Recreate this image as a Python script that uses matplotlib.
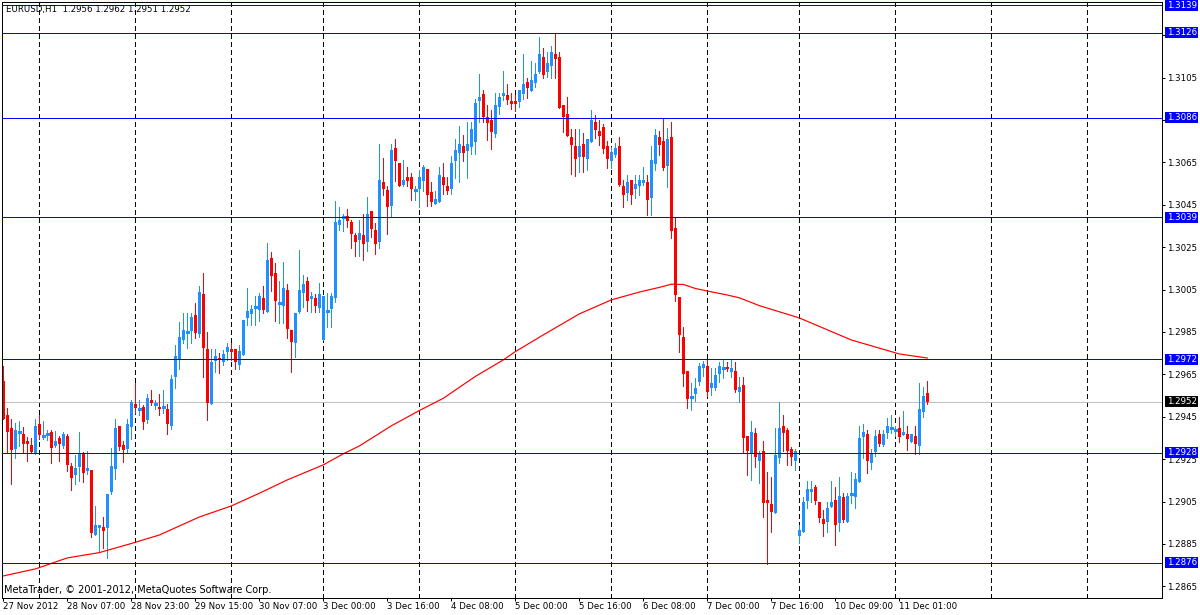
import numpy as np
import matplotlib
matplotlib.use("Agg")
import matplotlib.pyplot as plt
from matplotlib.patches import Rectangle

# ── EURUSD H1 candles, prices in pips (1 pip = 0.0001) ────────────────────────
opens = [
    12962, 12946, 12939.7, 12930, 12937.7, 12936.9, 12933.6, 12931.7, 12927.4, 12941.6,
    12935.8, 12936.7, 12937.8, 12931.2, 12935, 12931.4, 12935.9, 12921.8, 12917.7, 12921.3,
    12927.6, 12919.6, 12919.9, 12889.4, 12892.7, 12892.9, 12892.7, 12909.7, 12920.5, 12940.6,
    12931.7, 12929.6, 12940.3, 12951, 12948.7, 12949.6, 12943.5, 12952.9, 12951, 12949.6,
    12949.6, 12948.7, 12940.4, 12963.5, 12972.1, 12981.2, 12984.8, 12985.6, 12993, 12983.9,
    13002.9, 12977, 12950.9, 12971.5, 12972.9, 12970.7, 12975.7, 12977, 12977, 12969.6,
    12974.1, 12991.8, 12993.5, 12996.6, 12995.4, 13000.9, 12994.6, 13019.7, 13013, 12998.7,
    12997.3, 13004.8, 12985.9, 12979.7, 12994.6, 13003.5, 13009.1, 13000.6, 13000.9, 12996.5,
    12981.2, 12994.9, 12995.7, 13000.9, 13035.5, 13039.4, 13039.7, 13036.9, 13030.8, 13028.4,
    13030.8, 13027.6, 13042.1, 13033.1, 13027.6, 13055.8, 13052, 13044.6, 13071.8, 13064.7,
    13054.4, 13058.1, 13058.1, 13052, 13052.5, 13056.4, 13061.9, 13051.1, 13045.4, 13046.5,
    13058.1, 13053.9, 13052.5, 13065.8, 13069.6, 13072.7, 13070.5, 13072.4, 13074.8, 13093.7,
    13097, 13086.3, 13085, 13078.4, 13091.3, 13096.3, 13096.8, 13094, 13094, 13093.6,
    13097.4, 13102.9, 13098.8, 13102.6, 13107.8, 13114.7, 13107.8, 13110.6, 13116.1, 13114.7,
    13092.1, 13087.7, 13077, 13072.7, 13067.7, 13073.7, 13066.6, 13074.8, 13083.9, 13079.8,
    13081.7, 13072.7, 13065.7, 13068.5, 13072.7, 13053.9, 13050.7, 13056.7, 13052.5, 13053.6,
    13055.1, 13055.6, 13048.4, 13064.4, 13077, 13075.1, 13063.4, 13076.9, 13033.9, 13001.6,
    12982.8, 12966.6, 12954.5, 12955.6, 12961.5, 12967.8, 12968.9, 12958.7, 12958.7, 12965.3,
    12967.8, 12968.6, 12966.3, 12966.6, 12956.5, 12960, 12935.9, 12927.5, 12937.2, 12924.2,
    12929, 12905.8, 12903.9, 12899.5, 12925.7, 12940.7, 12938.8, 12929.8, 12924.3, 12888.5,
    12890.4, 12905.4, 12909.5, 12912, 12904.8, 12896.8, 12895.5, 12902.6, 12905.8, 12894.8,
    12906.9, 12895.5, 12908.4, 12907.3, 12914.3, 12935.6, 12936.7, 12923.3, 12928.5, 12936.7,
    12931.6, 12937.4, 12939.5, 12938.7, 12939.5, 12936.3, 12936.8, 12933.2, 12935.9, 12931.2,
    12947.4, 12956,
]
highs = [
    12969, 12949, 12944, 12941.9, 12943.2, 12940, 12935.6, 12935, 12944, 12945.8,
    12943.2, 12938.8, 12938.8, 12938.4, 12936.1, 12938, 12936.9, 12923.3, 12927.1, 12937.8,
    12928.2, 12928.9, 12919.9, 12902.9, 12894, 12897.9, 12908.6, 12930.4, 12944, 12940.6,
    12933.4, 12943.8, 12952.9, 12961.1, 12952.9, 12950.7, 12955.9, 12957.6, 12952.9, 12955.7,
    12957.6, 12951, 12964.7, 12978.9, 12989.7, 12993.8, 12993.8, 12993.8, 12998.5, 13006.7,
    13012.7, 12984.8, 12977, 12977, 12974.9, 12976.5, 12980, 12979.6, 12977, 12978.9,
    12990.7, 13005.6, 12997.7, 13002, 13003.2, 13006.7, 13026.8, 13022.7, 13017.4, 13009.1,
    13018, 13007.6, 12985.9, 12993.8, 13023.7, 13011.9, 13011.1, 13003.9, 13002.8, 13007.9,
    13002, 13003.2, 13003.2, 13046.8, 13044.1, 13040.7, 13043, 13037.8, 13031.5, 13037.8,
    13040.7, 13048.8, 13042.1, 13036.3, 13073.7, 13067.2, 13053.9, 13073.7, 13076.1, 13064.7,
    13066.1, 13062.8, 13059.9, 13053.9, 13061.4, 13063.9, 13061.9, 13055.8, 13051.5, 13062.8,
    13064.7, 13058.1, 13068, 13076.1, 13081.9, 13077.9, 13084.1, 13084.1, 13095.1, 13106.7,
    13099.2, 13092.1, 13089.7, 13097.9, 13097.6, 13108.1, 13101.8, 13097.6, 13096.8, 13099.1,
    13116.1, 13104.6, 13112.8, 13112, 13124, 13118.8, 13117.2, 13120, 13125.9, 13117.2,
    13092.1, 13095.8, 13080.8, 13080.8, 13080.8, 13079, 13076, 13089.7, 13087.1, 13084.8,
    13083.1, 13075.1, 13072, 13074, 13077, 13056.7, 13059.1, 13056.7, 13059.1, 13059.1,
    13063, 13059.1, 13072.9, 13080.8, 13079.8, 13085.5, 13081, 13083.8, 13038.6, 13001.6,
    12987.5, 12966.6, 12960.8, 12963.1, 12970.2, 12971.4, 12971.7, 12967.8, 12967.8, 12971,
    12971.7, 12971, 12971.7, 12971, 12963.9, 12963.9, 12935.9, 12943.2, 12939.6, 12929,
    12933.7, 12919.1, 12916.8, 12939.9, 12952.1, 12945.8, 12939.6, 12930.9, 12929.8, 12894,
    12907.3, 12914.7, 12914.7, 12912.8, 12904.8, 12901, 12905, 12914.7, 12912, 12916.8,
    12908.9, 12908.9, 12918.9, 12918.3, 12940.6, 12941.5, 12938.7, 12929.6, 12938.7, 12938.7,
    12938.7, 12944.5, 12945.8, 12940.6, 12945, 12947.8, 12940.6, 12936.8, 12940.6, 12960.7,
    12959.1, 12962,
]
lows = [
    12944, 12928.5, 12913.4, 12925.7, 12931.2, 12928.5, 12924.3, 12927.8, 12927.4, 12934.7,
    12934.4, 12933.9, 12923.2, 12930.6, 12924.3, 12930.1, 12919.6, 12910.6, 12913.4, 12914.9,
    12914.4, 12917.8, 12888.4, 12889.4, 12881.1, 12883.3, 12878.5, 12908.6, 12915.5, 12929.3,
    12923.5, 12927.8, 12934.7, 12946.8, 12945.8, 12939.2, 12942.2, 12950.4, 12948.5, 12945.8,
    12946.6, 12937, 12939.1, 12958.7, 12967.4, 12979.7, 12977.3, 12979.7, 12982.3, 12982.8,
    12963.5, 12943.5, 12950.9, 12966.3, 12965.5, 12969.4, 12971.8, 12971.8, 12967.6, 12967.6,
    12974.1, 12988.3, 12988.3, 12988.3, 12990.3, 12993.8, 12994.6, 13004.3, 12990.3, 12989.1,
    12989.1, 12982.3, 12966.3, 12973.4, 12993.8, 12996.6, 12994.9, 12994.6, 12994.6, 12994.6,
    12981.2, 12987.5, 12987.5, 12999, 13033.1, 13032.8, 13034.7, 13024.8, 13020.6, 13020.6,
    13018.7, 13023.4, 13030, 13021.7, 13024.8, 13049.6, 13031.2, 13039.4, 13056.4, 13053.6,
    13053.6, 13053.6, 13047.3, 13047.3, 13044.1, 13051.5, 13044.6, 13044.6, 13045.4, 13046.5,
    13050.1, 13050.1, 13050.1, 13057.5, 13055.5, 13065.8, 13057.8, 13068.8, 13068.8, 13084.2,
    13084.2, 13075.6, 13071.3, 13076.8, 13088, 13094.4, 13092.5, 13090, 13089.4, 13091.3,
    13094.9, 13095.5, 13098.8, 13100.7, 13107, 13104.6, 13105.1, 13104.6, 13104.6, 13090.8,
    13079.5, 13077.5, 13059.5, 13058.6, 13060.6, 13060.6, 13061.4, 13074.8, 13076.4, 13073.2,
    13069.3, 13062.2, 13062.2, 13067.7, 13053.6, 13043.7, 13047.3, 13045.4, 13048.4, 13049.6,
    13054.3, 13040.2, 13040.2, 13061.4, 13068.5, 13061.4, 13053.5, 13029.4, 12999.7, 12975.7,
    12959.7, 12949.3, 12948.2, 12952.4, 12959.9, 12964.4, 12954.8, 12955.3, 12957.6, 12961.5,
    12963.1, 12966.6, 12963.9, 12956.8, 12951.8, 12927.8, 12917.5, 12915.2, 12921.5, 12913.6,
    12897.6, 12875.6, 12890.4, 12899.5, 12923.4, 12928.6, 12922.3, 12922.3, 12919.9, 12885.3,
    12890.4, 12901.8, 12905, 12903.9, 12895.5, 12888.5, 12890.4, 12902.6, 12884.5, 12891.3,
    12895.5, 12895.5, 12904.1, 12901.8, 12914.3, 12925.3, 12918.6, 12920.3, 12926.6, 12931.2,
    12931.2, 12934.8, 12937.1, 12935.9, 12933.2, 12936.3, 12929.3, 12933.2, 12927.4, 12927.4,
    12945, 12951,
]
closes = [
    12944, 12938, 12929.5, 12938.8, 12937.7, 12932.3, 12932.3, 12928.5, 12940.6, 12936.4,
    12935.8, 12936.7, 12930.4, 12933.6, 12932.3, 12936.9, 12922.4, 12916.3, 12921, 12927.3,
    12918.6, 12920.8, 12890.3, 12893.8, 12894, 12891.3, 12908.6, 12921.8, 12939.5, 12930.6,
    12929.3, 12941.6, 12951.8, 12949.3, 12948.7, 12942.7, 12954, 12951.6, 12951, 12948.5,
    12949.6, 12941.4, 12962.8, 12973.7, 12982.5, 12985.9, 12984.8, 12991.9, 12984.7, 13003.9,
    12977.6, 12951.7, 12970.7, 12973.7, 12971.8, 12974.6, 12977.9, 12975.7, 12970.7, 12976,
    12990.7, 12994.9, 12995.8, 12996.6, 13002, 12995.4, 13018.9, 13011.6, 12999.6, 12998.7,
    13005.6, 12986.4, 12980.4, 12993.8, 13004.8, 13007.6, 12999.8, 13002, 12997.3, 13002.8,
    13002, 12994.9, 13002, 13036.9, 13037.8, 13039.4, 13037.4, 13031.2, 13027.6, 13031.5,
    13026.7, 13040.7, 13033.6, 13026.7, 13056.7, 13052.5, 13043.7, 13070.9, 13065.8, 13053.6,
    13056.7, 13056.2, 13052.6, 13052, 13058.1, 13062.8, 13049.6, 13046.5, 13047.6, 13059.1,
    13054.4, 13051.5, 13064.7, 13070.9, 13073.7, 13069.6, 13073.7, 13080.8, 13093.2, 13096,
    13086.6, 13083.7, 13079.5, 13092.1, 13096, 13097.6, 13094.6, 13092.7, 13092.7, 13099.1,
    13101.8, 13099.9, 13103.9, 13106.7, 13116.1, 13106.2, 13111.7, 13116.9, 13113.5, 13090.8,
    13086.6, 13077.5, 13073.2, 13066.6, 13072.9, 13067.7, 13076, 13085, 13080.1, 13077.6,
    13071.5, 13066.6, 13070.1, 13071.6, 13054.3, 13049.6, 13055.9, 13049.6, 13054.8, 13056.7,
    13056.7, 13047.3, 13066.1, 13077.9, 13073.2, 13062.5, 13076, 13032.6, 13002.4, 12983.5,
    12965.3, 12953.4, 12954.5, 12958.4, 12968.9, 12969.9, 12956.5, 12960.8, 12964.7, 12968.9,
    12967.8, 12967.5, 12967.8, 12957.5, 12959.2, 12934.8, 12928.6, 12938, 12925.9, 12927.8,
    12904.5, 12904.5, 12900.1, 12927, 12939.9, 12937.5, 12928.6, 12925.9, 12928.6, 12891.6,
    12904.8, 12910.9, 12910.9, 12905.4, 12897.4, 12894.6, 12901.8, 12904.7, 12893.7, 12907.6,
    12896.3, 12907.6, 12908.4, 12915.6, 12934.8, 12937.8, 12924.2, 12927.7, 12935.9, 12932.1,
    12936.8, 12940.6, 12939.5, 12938.7, 12935.6, 12937.8, 12934.5, 12936.8, 12932.1, 12948.6,
    12954.7, 12952,
]

# moving average, read at a few bars (pips)
ma_bars = [0, 8, 16, 24, 32, 39, 49, 57, 64, 71, 80, 85, 89, 97, 104, 110, 118, 125,
           128, 135, 144, 152, 159, 164, 167, 170, 173, 176, 181, 184, 189, 199, 212,
           224, 231]
ma_pips = [12869.9, 12873.2, 12878.4, 12880.9, 12885.2, 12889.2, 12897.7, 12902.9,
           12908.9, 12915.2, 12922.3, 12927.5, 12931.2, 12940.7, 12947.9, 12953.7,
           12964.0, 12971.8, 12975.7, 12983.6, 12993.5, 13000.1, 13003.8, 13006.0,
           13007.5, 13007.4, 13005.5, 13004.3, 13002.4, 13001.1, 12997.4, 12991.6,
           12981.2, 12974.6, 12972.7]

levels = [1.3139, 1.3126, 1.3086, 1.3039, 1.2972, 1.2928, 1.2876]
bid = 1.2952

price_ticks = [1.2865, 1.2885, 1.2905, 1.2925, 1.2945, 1.2965, 1.2985, 1.3005,
               1.3025, 1.3045, 1.3065, 1.3085, 1.3105, 1.3125]
hidden_ticks = [1.3085, 1.3125]   # covered by the level boxes
time_ticks = [0, 16, 32, 48, 64, 80, 96, 112, 128, 144, 160, 176, 192, 208, 224]
time_labels = ["27 Nov 2012", "28 Nov 07:00", "28 Nov 23:00", "29 Nov 15:00",
               "30 Nov 07:00", "3 Dec 00:00", "3 Dec 16:00", "4 Dec 08:00",
               "5 Dec 00:00", "5 Dec 16:00", "6 Dec 08:00", "7 Dec 00:00",
               "7 Dec 16:00", "10 Dec 09:00", "11 Dec 01:00"]
day_bars = [9, 33, 57, 80, 104, 128, 152, 176, 199, 223, 247, 271]

# ── Plot ───────────────────────────────────────────────────────────────────────
plt.rcParams["font.family"] = ["DejaVu Sans"]
plt.rcParams["font.size"] = 6.2

UP, DOWN = "#1E90FF", "#FF0000"
PX = 0.72  # one pixel in points at dpi 100

o = np.array(opens) / 1e4
h = np.array(highs) / 1e4
l = np.array(lows) / 1e4
c = np.array(closes) / 1e4
idx = np.arange(len(o))
up = c >= o
cols = np.where(up, UP, DOWN)

fig = plt.figure(figsize=(12, 6.15), dpi=100)
ax = fig.add_axes([2 / 1200, 17 / 615, 1160 / 1200, 596 / 615])
ax.set_xlim(-0.33, 289.67)
ax.set_ylim(1.285949, 1.314062)

for b in day_bars:
    ax.axvline(b, color="k", lw=PX, ls=(0, (4.5, 4)), zorder=0.5, antialiased=False)
ax.axhline(bid, color="#C0C0C0", lw=PX, zorder=0.8, antialiased=False)

ax.vlines(idx, l, h, colors=cols, lw=PX, zorder=2, antialiased=False)
body = c - o
ax.bar(idx, body, bottom=o, width=0.75, color=cols, lw=0, zorder=2.1,
       antialiased=False)
flat = np.abs(body) < 0.00004
ax.hlines(o[flat], idx[flat] - 0.4, idx[flat] + 0.4, colors=cols[flat],
          lw=PX * 1.2, zorder=2.2, antialiased=False)

ax.plot(ma_bars, np.array(ma_pips) / 1e4, color="#FF0000", lw=PX * 1.2, zorder=3)

for lv in levels:
    ax.axhline(lv, color="#0000FF", lw=PX, zorder=3.5, antialiased=False)

# axes / ticks
for sp in ax.spines.values():
    sp.set_color("k")
    sp.set_linewidth(PX)
ax.yaxis.tick_right()
ax.set_yticks(price_ticks)
ax.set_yticklabels(["" if p in hidden_ticks else f"{p:.4f}" for p in price_ticks])
ax.set_xticks(time_ticks)
ax.set_xticklabels(time_labels)
for lbl in ax.get_xticklabels():
    lbl.set_horizontalalignment("left")
ax.tick_params(axis="both", length=2.2, width=PX, direction="out", pad=1.5,
               colors="k", labelsize=6.2)
ax.tick_params(axis="x", pad=0.8)

# price boxes on the right scale
box_h = 11 / 21200
tr = ax.get_yaxis_transform()
for lv, fc in [(v, "#0000FF") for v in levels] + [(bid, "#000000")]:
    ax.add_patch(Rectangle(((1165 - 2) / 1160, lv - box_h / 2), 33 / 1160, box_h,
                           transform=tr, facecolor=fc, edgecolor="none",
                           clip_on=False, zorder=9))
    ax.text((1167.5 - 2) / 1160, lv, f"{lv:.4f}", transform=tr, color="white",
            va="center", ha="left", fontsize=6.2, clip_on=False, zorder=10)

fig.text(6 / 1200, 1 - 9.5 / 615, "EURUSD,H1  1.2956 1.2962 1.2951 1.2952",
         va="center", ha="left", fontsize=6.2)
fig.text(3.5 / 1200, 1 - 590 / 615, "MetaTrader, © 2001-2012, MetaQuotes Software Corp.",
         va="center", ha="left", fontsize=7.0)

fig.savefig("out.png", dpi=100, facecolor="white")
